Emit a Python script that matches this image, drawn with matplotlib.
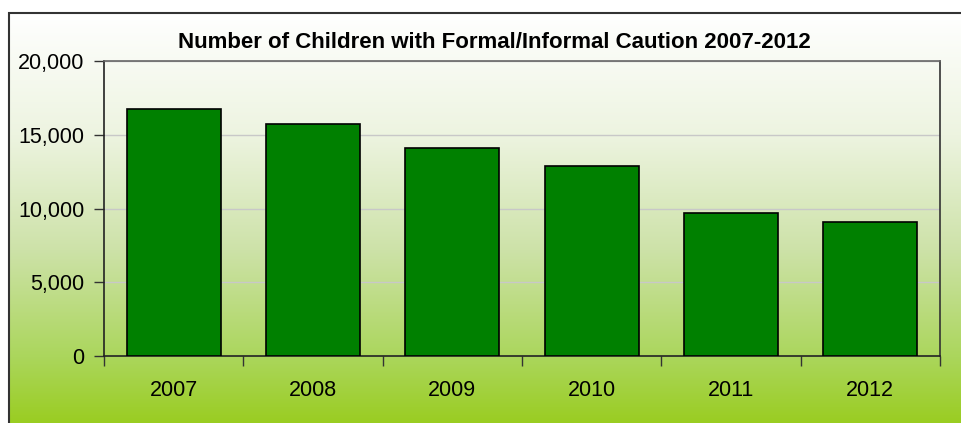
import matplotlib.pyplot as plt
import numpy as np
from matplotlib.colors import LinearSegmentedColormap
from matplotlib.patches import Rectangle
from matplotlib.ticker import FuncFormatter, MultipleLocator

plt.rcParams['font.family'] = ['Liberation Sans', 'DejaVu Sans']

years = ['2007', '2008', '2009', '2010', '2011', '2012']
cautions = [16750, 15740, 14100, 12900, 9730, 9100]

W, H = 962, 423
fig = plt.figure(figsize=(W / 100, H / 100), dpi=100)

# gradient background inside the chart border (white -> yellow-green)
bg = fig.add_axes([0, 0, 1, 1], zorder=-2)
grad = LinearSegmentedColormap.from_list('bg', [
    (0.0, '#ffffff'), (0.3, '#edf4e0'), (0.58, '#cde2a8'),
    (0.84, '#abd65c'), (1.0, '#9acd22')])
x0, y0 = 9 / W, 1 - 13 / H
bg.imshow(np.linspace(1, 0, 256).reshape(-1, 1), cmap=grad.reversed(), aspect='auto',
          extent=[x0, 1.0, 0, y0], vmin=0, vmax=1)
bg.add_patch(Rectangle((x0, -0.05), 1.0, y0 + 0.05, fill=False,
                       edgecolor='#333333', lw=1.5))
bg.set_xlim(0, 1)
bg.set_ylim(0, 1)
bg.axis('off')

ax = fig.add_axes([104 / W, (H - 356) / H, (940 - 104) / W, (356 - 61.5) / H])
ax.patch.set_alpha(0)

x = np.arange(len(years))
ax.bar(x, cautions, width=0.675, color='#008000', edgecolor='black', lw=1.2, zorder=3)

ax.set_xlim(-0.5, len(years) - 0.5)
ax.set_ylim(0, 20000)
ax.yaxis.set_major_locator(MultipleLocator(5000))
ax.yaxis.set_major_formatter(FuncFormatter(lambda v, p: f'{int(v):,}'))
ax.grid(axis='y', color='#c8c8c8', lw=1, zorder=0)

ax.set_xticks(x)
ax.set_xticklabels(years)
ax.set_xticks(np.arange(-0.5, len(years)), minor=True)
ax.tick_params(axis='x', which='major', length=0, pad=17, labelsize=15.5)
ax.tick_params(axis='x', which='minor', length=7, width=1, color='#333333', direction='out')
ax.tick_params(axis='y', length=7, width=1, color='#333333', labelsize=15.5, pad=7)

ax.spines['left'].set_color('#222222')
ax.spines['bottom'].set_color('#222222')
ax.spines['right'].set_color('#333333')
ax.spines['top'].set_color('#666666')
for s in ax.spines.values():
    s.set_linewidth(1.2)

# title is centred on the chart area, not on the plot area
fig.text(494 / W, 1 - 43 / H, 'Number of Children with Formal/Informal Caution 2007-2012',
         fontsize=16, fontweight='bold', ha='center', va='center')

fig.savefig('out.png', dpi=100)
